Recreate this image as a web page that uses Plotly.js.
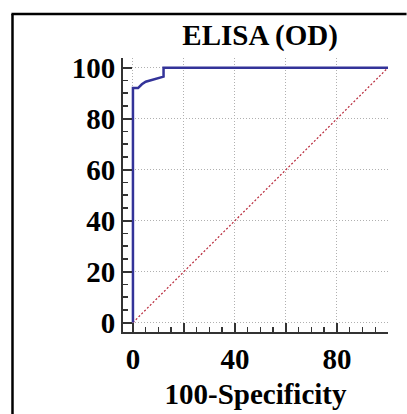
<!DOCTYPE html>
<html>
<head>
<meta charset="utf-8">
<script src="https://cdn.plot.ly/plotly-3.0.1.min.js"></script>
<style>html,body{margin:0;padding:0;background:#fff;}#chart{width:407px;height:414px;}</style>
</head>
<body>
<div id="chart"></div>
<script>
// ROC curve (100-Specificity vs Sensitivity)
const rocX = [0, 0, 2, 3.5, 5, 12, 12, 100];
const rocY = [0, 92, 92, 93.5, 94.5, 96.5, 100, 100];
const diagX = [0, 100];
const diagY = [0, 100];
const xTickVals = [0, 20, 40, 60, 80, 100];
const xTickText = ['0', '', '40', '', '80', ''];
const yTickVals = [0, 20, 40, 60, 80, 100];
const yTickText = ['0', '20', '40', '60', '80', '100'];
const titleText = 'ELISA (OD)';
const xTitleText = '100-Specificity';

const serif = 'Liberation Serif, Times New Roman, serif';
const axisCommon = {
  showline: true, linecolor: '#333', linewidth: 2, mirror: false,
  ticks: 'inside', ticklen: 9, tickwidth: 2, tickcolor: '#333',
  showgrid: true, gridcolor: '#b0b0b0', gridwidth: 1, griddash: '1px,2px',
  zeroline: false, tickmode: 'array',
  tickfont: {family: serif, size: 29, color: '#000', weight: 'bold'},
  minor: {ticks: 'inside', ticklen: 5, tickwidth: 1.5, tickcolor: '#333', dtick: 5, tick0: 0, showgrid: false}
};

const data = [
  {x: diagX, y: diagY, mode: 'lines', line: {color: '#b8283a', width: 1.2, dash: '2px,2px'}, hoverinfo: 'skip'},
  {x: rocX, y: rocY, mode: 'lines', line: {color: '#333399', width: 2.5}, hoverinfo: 'skip'}
];

const layout = {
  width: 407, height: 414,
  margin: {l: 123, r: 19, t: 58, b: 82},
  paper_bgcolor: '#fff', plot_bgcolor: '#fff',
  showlegend: false,
  title: {text: titleText, font: {family: serif, size: 29, color: '#000', weight: 'bold'},
          xref: 'container', x: 0.639, xanchor: 'center', yref: 'container', y: 1 - 35/414, yanchor: 'middle'},
  xaxis: Object.assign({}, axisCommon, {
    range: [-3.9, 100], tickvals: xTickVals, ticktext: xTickText,
    title: {text: xTitleText, font: {family: serif, size: 29, color: '#000', weight: 'bold'}, standoff: 10}
  }),
  yaxis: Object.assign({}, axisCommon, {
    range: [-3.7, 103.8], tickvals: yTickVals, ticktext: yTickText
  }),
  shapes: [
    {type: 'line', xref: 'paper', yref: 'paper', x0: -0.417, x1: -0.417, y0: 1.1606, y1: -0.35, line: {color: '#000', width: 2.5}},
    {type: 'line', xref: 'paper', yref: 'paper', x0: -0.421, x1: 1.07, y0: 1.1606, y1: 1.1606, line: {color: '#000', width: 2.5}}
  ]
};

Plotly.newPlot('chart', data, layout, {staticPlot: true, displayModeBar: false});
</script>
</body>
</html>
